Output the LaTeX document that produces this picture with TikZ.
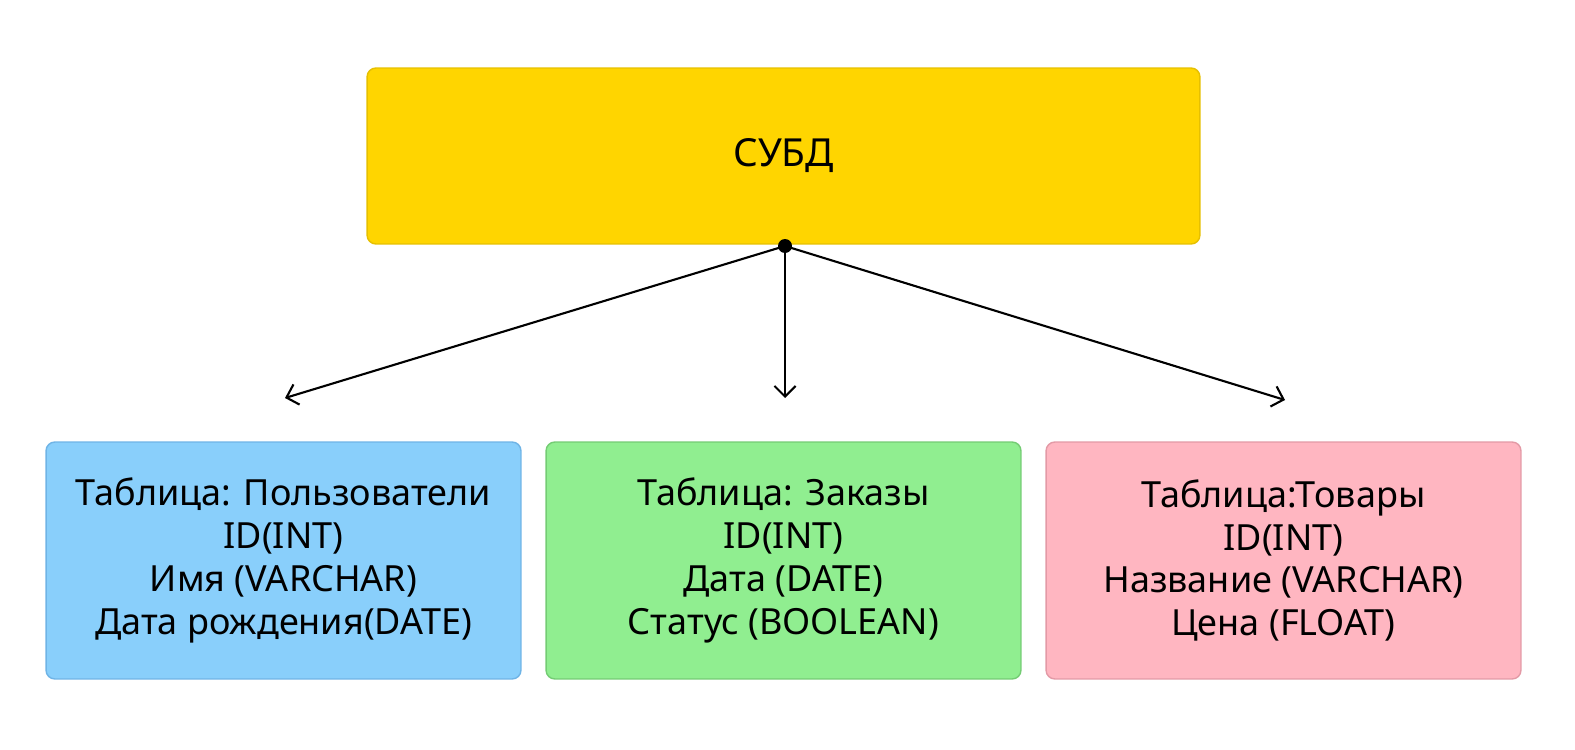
\documentclass[tikz,border=0pt]{standalone}
\usepackage{fontspec}
\setmainfont{Noto Sans}
\usetikzlibrary{arrows.meta}
\definecolor{yel}{HTML}{FFD500}\definecolor{yelb}{HTML}{E6C000}
\definecolor{blu}{HTML}{89CFFB}\definecolor{blub}{HTML}{6FB4E6}
\definecolor{grn}{HTML}{90EE90}\definecolor{grnb}{HTML}{74CC74}
\definecolor{pnk}{HTML}{FFB6C1}\definecolor{pnkb}{HTML}{E39AA6}
\begin{document}
\begin{tikzpicture}[x=0.02cm,y=-0.02cm,
  tbl/.style={draw,line width=0.8pt,rounded corners=5pt,minimum width=9.5cm,minimum height=4.74cm,align=center,font=\fontsize{20.5}{24.4}\selectfont},
  arr/.style={-{Straight Barb[length=6pt,width=12pt]},line width=1.2pt}]
\useasboundingbox (0,0) rectangle (1575,750);
\node[draw=yelb,fill=yel,line width=0.8pt,rounded corners=5pt,minimum width=16.66cm,minimum height=3.52cm,font=\bfseries\fontsize{22}{26}\selectfont] (top) at (783.5,156) {СУБД};
\node[tbl,draw=blub,fill=blu] (a) at (283.5,560.5) {Таблица: Пользователи\\ID(INT)\\Имя (VARCHAR)\\Дата рождения(DATE)};
\node[tbl,draw=grnb,fill=grn] (b) at (783.5,560.5) {Таблица: Заказы\\ID(INT)\\Дата (DATE)\\Статус (BOOLEAN)};
\node[tbl,draw=pnkb,fill=pnk] (c) at (1283.5,560.5) {Таблица:Товары\\ID(INT)\\Название (VARCHAR)\\Цена (FLOAT)};
\coordinate (s) at (785,246);
\coordinate (ea) at (285,398);
\coordinate (eb) at (785,398);
\coordinate (ec) at (1285,400);
\draw[arr] (s) -- (ea);
\draw[arr] (s) -- (eb);
\draw[arr] (s) -- (ec);
\fill (s) circle (7);
\end{tikzpicture}
\end{document}
